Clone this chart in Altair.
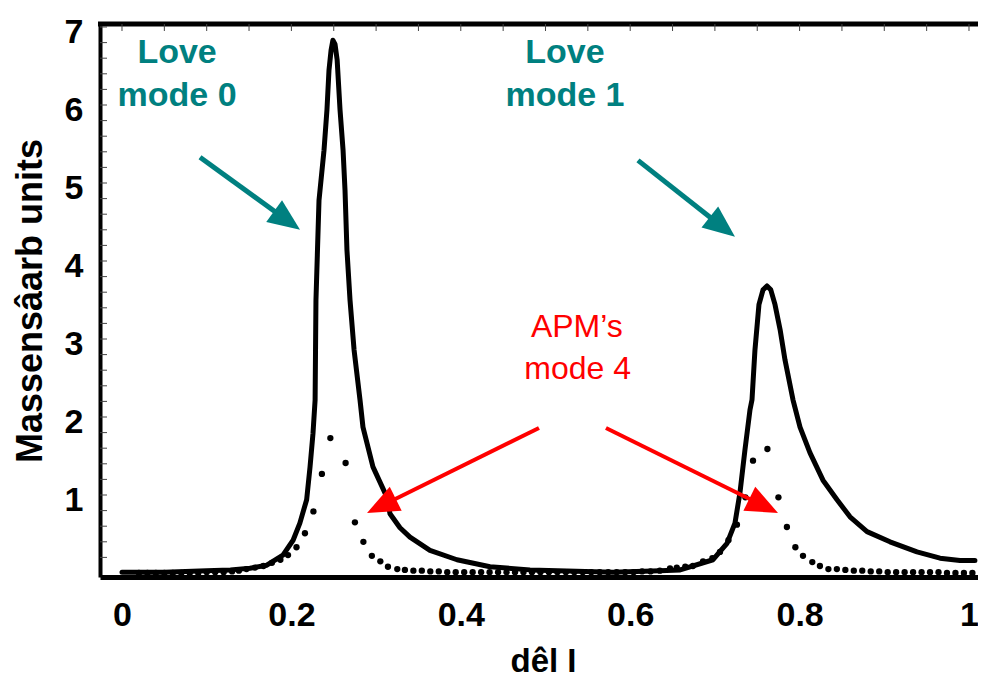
import math
import altair as alt
import pandas as pd

# ---------------- data ----------------
solid_x = [0.0, 0.05, 0.10, 0.128, 0.151, 0.171, 0.190, 0.202, 0.210, 0.218, 0.222, 0.2255, 0.228,
           0.229, 0.2326, 0.2385, 0.242, 0.2444, 0.2468, 0.249, 0.2515, 0.254, 0.2574, 0.261, 0.2633,
           0.2656, 0.2692, 0.274, 0.281, 0.2845, 0.2963, 0.3129, 0.3164, 0.3282, 0.340, 0.3636, 0.3955,
           0.4345, 0.4817, 0.5797, 0.635, 0.659, 0.6978, 0.7143, 0.7237, 0.7296, 0.7355, 0.7414, 0.7438,
           0.7473, 0.752, 0.7568, 0.7615, 0.766, 0.771, 0.777, 0.7828, 0.7922, 0.8005, 0.8123, 0.8276,
           0.8442, 0.8595, 0.8796, 0.9067, 0.9386, 0.9658, 0.9894, 1.007]
solid_y = [0.01, 0.01, 0.03, 0.04, 0.06, 0.10, 0.23, 0.42, 0.64, 0.94, 1.36, 1.79, 2.22,
           3.5, 4.78, 5.42, 5.94, 6.45, 6.70, 6.83, 6.78, 6.58, 5.94, 5.42, 4.91,
           4.14, 3.5, 2.86, 2.22, 1.87, 1.36, 0.97, 0.76, 0.58, 0.46, 0.29, 0.17,
           0.08, 0.04, 0.01, 0.03, 0.04, 0.17, 0.38, 0.64, 1.03, 1.58, 2.09, 2.22,
           2.86, 3.44, 3.63, 3.68, 3.63, 3.44, 3.12, 2.73, 2.22, 1.87, 1.54, 1.19,
           0.94, 0.72, 0.53, 0.40, 0.27, 0.19, 0.16, 0.16]

dot_x = [0.02, 0.03, 0.04, 0.05, 0.06, 0.07, 0.08, 0.09, 0.10, 0.11, 0.12, 0.13, 0.138, 0.147,
         0.157, 0.167, 0.177, 0.187, 0.196, 0.206, 0.216, 0.226, 0.236, 0.246, 0.264, 0.275, 0.285,
         0.295, 0.305, 0.314, 0.325, 0.334, 0.344, 0.354, 0.364, 0.374, 0.384, 0.394, 0.404, 0.414,
         0.424, 0.434, 0.444, 0.454, 0.464, 0.474, 0.484, 0.494, 0.504, 0.514, 0.524, 0.534, 0.544,
         0.554, 0.564, 0.574, 0.584, 0.594, 0.604, 0.614, 0.624, 0.635, 0.647, 0.655, 0.665, 0.674,
         0.686, 0.697, 0.706, 0.716, 0.726, 0.736, 0.745, 0.762, 0.775, 0.785, 0.795, 0.804, 0.815,
         0.824, 0.834, 0.844, 0.854, 0.864, 0.874, 0.884, 0.894, 0.904, 0.914, 0.924, 0.934, 0.944,
         0.954, 0.964, 0.974, 0.984, 0.994, 1.004]
dot_y = [0.0, 0.0, 0.0, 0.0, 0.0, 0.0, 0.0, 0.0, 0.01, 0.01, 0.01, 0.02, 0.03, 0.05,
         0.07, 0.09, 0.13, 0.17, 0.23, 0.33, 0.51, 0.79, 1.27, 1.73, 1.41, 0.65, 0.40,
         0.22, 0.15, 0.08, 0.05, 0.04, 0.03, 0.03, 0.02, 0.02, 0.01, 0.01, 0.01, 0.01,
         0.01, 0.01, 0.01, 0.01, 0.01, 0.01, 0.01, 0.01, 0.01, 0.01, 0.01, 0.01, 0.01,
         0.01, 0.01, 0.01, 0.01, 0.01, 0.01, 0.02, 0.02, 0.03, 0.06, 0.07, 0.08, 0.09,
         0.15, 0.19, 0.27, 0.42, 0.62, 0.97, 1.44, 1.59, 0.97, 0.59, 0.33, 0.22, 0.14,
         0.09, 0.05, 0.05, 0.04, 0.03, 0.03, 0.02, 0.02, 0.01, 0.01, 0.01, 0.01, 0.01,
         0.01, 0.01, 0.0, 0.0, 0.0, 0.0]

x_tick_values = [0, 0.2, 0.4, 0.6, 0.8, 1]
y_tick_values = [1, 2, 3, 4, 5, 6, 7]
top_minor_ticks = [0, 0.05, 0.1, 0.15, 0.2, 0.25, 0.3, 0.35, 0.4, 0.45, 0.5, 0.55, 0.6, 0.65,
                   0.7, 0.75, 0.8, 0.85, 0.9, 0.95, 1.0]
left_minor_ticks = [0.2, 0.4, 0.6, 0.8, 1.0, 1.2, 1.4, 1.6, 1.8, 2.0, 2.2, 2.4, 2.6, 2.8, 3.0,
                    3.2, 3.4, 3.6, 3.8, 4.0, 4.2, 4.4, 4.6, 4.8, 5.0, 5.2, 5.4, 5.6, 5.8, 6.0,
                    6.2, 6.4, 6.6, 6.8, 7.0]

x_title = "dêl I"
y_title = "Massensâarb units"

teal_text = ["Love", "mode 0", "Love", "mode 1"]
teal_text_x = [0.065, 0.065, 0.523, 0.523]
teal_text_y = [6.67, 6.12, 6.67, 6.12]
red_text = ["APM\u2019s", "mode 4"]
red_text_x = [0.537, 0.538]
red_text_y = [3.15, 2.62]

# arrows: start -> tip (data units)
arrow_x_start = [0.0921, 0.6092, 0.4923, 0.5714]
arrow_y_start = [5.33, 5.29, 1.86, 1.86]
arrow_x_tip = [0.2102, 0.7237, 0.2893, 0.7745]
arrow_y_tip = [4.40, 4.31, 0.77, 0.77]
arrow_color = ["#008080", "#008080", "#ff0000", "#ff0000"]
arrow_width = [5, 5, 4, 4]

# ---------------- layout ----------------
W, H = 878, 553
X0, X1 = -0.02597, 1.01063
Y0, Y1 = -0.05128, 7.0385
PX = W / (X1 - X0)
PY = H / (Y1 - Y0)
HEAD_LEN = 32
HEAD_PATH = "M0,0L-0.42,1L0.42,1Z"
FONT = "Liberation Sans"

xs = alt.Scale(domain=[X0, X1], nice=False, zero=False)
ys = alt.Scale(domain=[Y0, Y1], nice=False, zero=False)

x_axis = alt.Axis(values=x_tick_values, format="~g", grid=False, ticks=False, tickSize=0,
                  domainColor="black", domainWidth=5, labelFont=FONT, labelFontSize=34,
                  labelFontWeight="bold", labelColor="black", labelPadding=21,
                  titleFont=FONT, titleFontSize=33, titleFontWeight="bold",
                  titleColor="black", titleX=443, titleY=94, titleBaseline="alphabetic",
                  titleAlign="center", labelFlush=False)
y_axis = alt.Axis(values=y_tick_values, grid=False, ticks=False, tickSize=0,
                  domainColor="black", domainWidth=4, labelFont=FONT, labelFontSize=34,
                  labelFontWeight="bold", labelColor="black", labelPadding=17,
                  labelOffset=5, labelFlush=False,
                  titleFont=FONT, titleFontSize=36, titleFontWeight="bold",
                  titleColor="black", titleAngle=270, titleX=-70, titleY=H / 2,
                  titleAlign="center", titleBaseline="middle")


def X(field):
    return alt.X(field, scale=xs, title=x_title, axis=x_axis)


def Y(field):
    return alt.Y(field, scale=ys, title=y_title, axis=y_axis)


solid_df = pd.DataFrame({"x": solid_x, "y": solid_y})
dot_df = pd.DataFrame({"x": dot_x, "y": dot_y})

rows = []
for i in range(len(arrow_x_start)):
    dx = (arrow_x_tip[i] - arrow_x_start[i]) * PX
    dy = -(arrow_y_tip[i] - arrow_y_start[i]) * PY
    L = math.hypot(dx, dy)
    ux, uy = dx / L, dy / L
    back = HEAD_LEN * 0.6
    rows.append({
        "x": arrow_x_start[i], "y": arrow_y_start[i],
        "x2": arrow_x_tip[i] - ux * back / PX, "y2": arrow_y_tip[i] + uy * back / PY,
        "tx": arrow_x_tip[i], "ty": arrow_y_tip[i],
        "angle": math.degrees(math.atan2(dx, -dy)) % 360,
        "color": arrow_color[i], "sw": arrow_width[i],
    })
arrow_df = pd.DataFrame(rows)

line = alt.Chart(solid_df).mark_line(color="black", strokeWidth=5, strokeJoin="round",
                                      strokeCap="round").encode(x=X("x:Q"), y=Y("y:Q"))

dots = alt.Chart(dot_df).mark_circle(color="black", size=40, opacity=1).encode(
    x=X("x:Q"), y=Y("y:Q"))

frame_top = alt.Chart(pd.DataFrame({"k": [0]})).mark_rule(color="black", strokeWidth=5).encode(
    x=alt.value(-2), x2=alt.value(W), y=alt.value(0))

top_ticks = alt.Chart(pd.DataFrame({"x": top_minor_ticks})).mark_rule(
    color="#444444", strokeWidth=1).encode(x=X("x:Q"), y=alt.value(0), y2=alt.value(7))

left_ticks = alt.Chart(pd.DataFrame({"y": left_minor_ticks})).mark_rule(
    color="#444444", strokeWidth=1).encode(y=Y("y:Q"), x=alt.value(0), x2=alt.value(7))

shafts = alt.Chart(arrow_df).mark_rule(strokeCap="butt").encode(
    x=X("x:Q"), y=Y("y:Q"), x2="x2:Q", y2="y2:Q",
    color=alt.Color("color:N", scale=None),
    strokeWidth=alt.StrokeWidth("sw:Q", scale=None),
)

heads = alt.Chart(arrow_df).mark_point(shape=HEAD_PATH, filled=True, opacity=1,
                                       size=(2 * HEAD_LEN) ** 2, strokeWidth=0).encode(
    x=X("tx:Q"), y=Y("ty:Q"),
    angle=alt.Angle("angle:Q", scale=None),
    color=alt.Color("color:N", scale=None),
)

teal_df = pd.DataFrame({"x": teal_text_x, "y": teal_text_y, "t": teal_text})
teal_lbl = alt.Chart(teal_df).mark_text(font=FONT, fontSize=34, fontWeight="bold",
                                         color="#008080", align="center",
                                         baseline="middle").encode(
    x=X("x:Q"), y=Y("y:Q"), text="t:N")

red_df = pd.DataFrame({"x": red_text_x, "y": red_text_y, "t": red_text})
red_lbl = alt.Chart(red_df).mark_text(font=FONT, fontSize=32, fontWeight="normal",
                                       color="#ff0000", align="center",
                                       baseline="middle").encode(
    x=X("x:Q"), y=Y("y:Q"), text="t:N")

chart = alt.layer(line, dots, frame_top, top_ticks, left_ticks, shafts, heads, teal_lbl,
                  red_lbl).properties(
    width=W, height=H,
    autosize=alt.AutoSizeParams(type="none"),
    padding={"left": 92, "top": 16, "right": 0, "bottom": 101},
).configure_view(stroke=None).configure(background="white")

chart.save("out.html", embed_options={"renderer": "svg", "actions": False})
